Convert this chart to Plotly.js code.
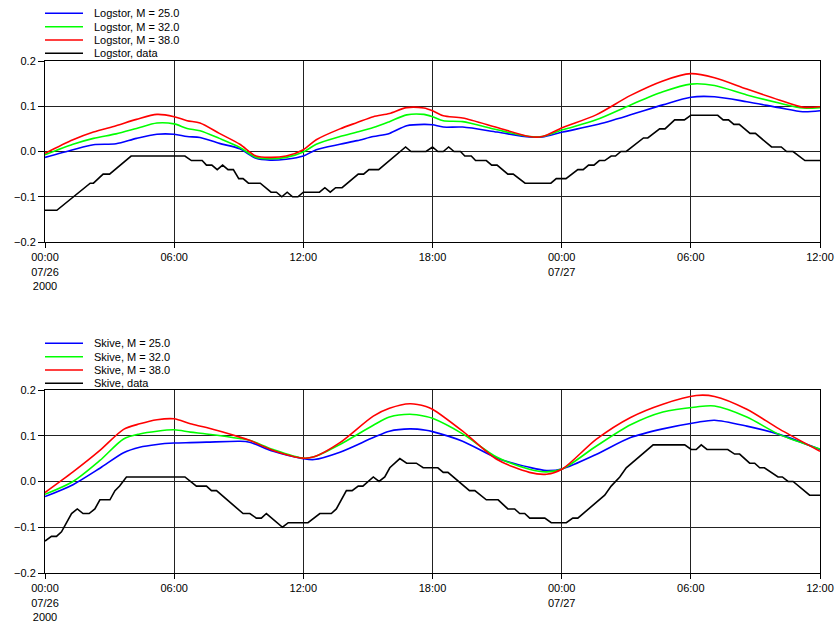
<!DOCTYPE html>
<html>
<head>
<meta charset="utf-8">
<script src="https://cdn.plot.ly/plotly-3.0.1.min.js"></script>
<style>html,body{margin:0;padding:0;background:#fff;}#chart{width:837px;height:623px;}</style>
</head>
<body>
<div id="chart"></div>
<script>
// ---------- data (hours since 2000-07-26 00:00) ----------
const topModelHours = [0, 1.3, 2.25, 3.3, 4.25, 5.2, 6.0, 6.6, 7.2, 8.1, 9.05, 9.8, 10.45, 11.2, 12.0, 12.6, 13.7, 14.5, 15.25, 16.0, 16.8, 17.6, 18.0, 18.5, 19.4, 21.0, 22.5, 23.1, 24.05, 25.6, 27.2, 28.7, 30.0, 31.1, 32.6, 34.1, 35.2, 36.0];
const logstorM25 = [-0.013, 0.004, 0.015, 0.017, 0.029, 0.038, 0.038, 0.033, 0.031, 0.018, 0.006, -0.015, -0.019, -0.017, -0.010, 0.004, 0.016, 0.024, 0.033, 0.040, 0.057, 0.060, 0.059, 0.054, 0.054, 0.043, 0.032, 0.032, 0.043, 0.059, 0.081, 0.103, 0.120, 0.121, 0.110, 0.097, 0.088, 0.090];
const logstorM32 = [-0.007, 0.016, 0.029, 0.039, 0.051, 0.063, 0.061, 0.051, 0.046, 0.029, 0.009, -0.013, -0.016, -0.013, -0.001, 0.016, 0.033, 0.043, 0.053, 0.066, 0.081, 0.082, 0.077, 0.068, 0.066, 0.048, 0.033, 0.033, 0.048, 0.070, 0.103, 0.132, 0.149, 0.146, 0.125, 0.107, 0.096, 0.097];
const logstorM38 = [-0.004, 0.026, 0.043, 0.057, 0.071, 0.082, 0.077, 0.068, 0.063, 0.040, 0.016, -0.010, -0.013, -0.010, 0.004, 0.026, 0.050, 0.064, 0.077, 0.084, 0.097, 0.096, 0.090, 0.079, 0.074, 0.053, 0.033, 0.033, 0.053, 0.081, 0.124, 0.156, 0.172, 0.163, 0.138, 0.114, 0.098, 0.099];

const logstorDataHours = [0, 0.55, 2.1, 2.25, 2.7, 3.0, 4.0, 6.5, 6.8, 7.3, 7.5, 7.75, 8.0, 8.25, 8.5, 8.75, 9.0, 9.2, 9.45, 10.0, 10.5, 10.75, 11.0, 11.25, 11.5, 11.75, 12.0, 12.75, 13.0, 13.25, 13.5, 13.8, 14.55, 14.8, 15.05, 15.5, 16.75, 17.0, 17.7, 18.0, 18.25, 18.5, 18.75, 19.0, 19.3, 19.5, 19.8, 20.0, 20.5, 20.75, 21.0, 21.5, 21.75, 22.3, 23.5, 23.75, 24.2, 24.75, 25.0, 25.25, 25.5, 25.75, 26.0, 26.3, 26.5, 26.75, 27.0, 27.8, 28.0, 28.55, 28.8, 29.25, 29.7, 30.0, 31.25, 31.5, 31.75, 32.0, 32.25, 32.75, 33.0, 33.75, 34.2, 34.45, 34.75, 35.3, 36.0];
const logstorData = [-0.13, -0.13, -0.07, -0.07, -0.05, -0.05, -0.01, -0.01, -0.02, -0.02, -0.03, -0.03, -0.04, -0.03, -0.04, -0.04, -0.06, -0.06, -0.07, -0.07, -0.09, -0.09, -0.10, -0.09, -0.10, -0.10, -0.09, -0.09, -0.08, -0.09, -0.08, -0.08, -0.05, -0.05, -0.04, -0.04, 0.01, 0.0, 0.0, 0.01, 0.0, 0.0, 0.01, 0.0, 0.0, -0.01, -0.01, -0.02, -0.02, -0.03, -0.03, -0.05, -0.05, -0.07, -0.07, -0.06, -0.06, -0.04, -0.04, -0.03, -0.03, -0.02, -0.02, -0.01, -0.01, 0.0, 0.0, 0.03, 0.03, 0.05, 0.05, 0.07, 0.07, 0.08, 0.08, 0.07, 0.07, 0.06, 0.06, 0.04, 0.04, 0.01, 0.01, 0.0, 0.0, -0.02, -0.02];

const bottomModelHours = [0, 1.3, 2.55, 3.65, 4.4, 5.2, 6.0, 6.75, 7.5, 9.05, 9.5, 10.6, 12.0, 12.5, 13.7, 15.25, 16.0, 16.95, 17.7, 18.0, 19.4, 21.0, 22.5, 23.3, 24.05, 25.6, 27.2, 28.7, 30.25, 31.1, 32.6, 34.1, 36.0];
const skiveM25 = [-0.033, -0.007, 0.029, 0.063, 0.075, 0.081, 0.084, 0.085, 0.086, 0.088, 0.086, 0.066, 0.050, 0.048, 0.064, 0.096, 0.110, 0.115, 0.112, 0.109, 0.088, 0.051, 0.031, 0.024, 0.028, 0.059, 0.096, 0.115, 0.129, 0.134, 0.121, 0.103, 0.070];
const skiveM32 = [-0.028, 0.0, 0.046, 0.093, 0.104, 0.110, 0.113, 0.108, 0.104, 0.094, 0.090, 0.070, 0.051, 0.054, 0.081, 0.123, 0.141, 0.147, 0.142, 0.138, 0.104, 0.053, 0.027, 0.021, 0.028, 0.077, 0.124, 0.152, 0.163, 0.165, 0.141, 0.103, 0.071];
const skiveM38 = [-0.024, 0.021, 0.068, 0.114, 0.126, 0.135, 0.137, 0.126, 0.118, 0.097, 0.090, 0.068, 0.051, 0.054, 0.085, 0.143, 0.160, 0.170, 0.164, 0.158, 0.110, 0.048, 0.020, 0.016, 0.028, 0.092, 0.140, 0.169, 0.188, 0.186, 0.158, 0.115, 0.066];

const skiveDataHours = [0, 0.31, 0.54, 0.77, 1.24, 1.5, 1.78, 2.06, 2.32, 2.55, 3.02, 3.25, 3.48, 3.79, 6.5, 7.04, 7.5, 7.74, 7.97, 9.21, 9.52, 9.83, 10.06, 10.29, 11.04, 11.3, 12.23, 12.77, 13.31, 13.54, 14.01, 14.27, 14.55, 14.78, 15.25, 15.53, 15.79, 16.02, 16.49, 16.8, 17.26, 17.57, 18.0, 18.26, 18.5, 18.73, 19.73, 19.97, 20.51, 21.05, 21.51, 21.82, 22.06, 22.29, 22.52, 23.22, 23.53, 24.22, 24.53, 24.76, 26.0, 26.31, 26.7, 27.0, 28.25, 29.72, 30.03, 30.26, 30.49, 30.76, 31.73, 32.04, 32.27, 32.74, 32.97, 33.2, 33.43, 34.05, 34.25, 34.52, 34.75, 35.52, 36.0];
const skiveData = [-0.13, -0.12, -0.12, -0.11, -0.07, -0.06, -0.07, -0.07, -0.06, -0.04, -0.04, -0.02, -0.01, 0.01, 0.01, -0.01, -0.01, -0.02, -0.02, -0.07, -0.07, -0.08, -0.08, -0.07, -0.10, -0.09, -0.09, -0.07, -0.07, -0.06, -0.02, -0.02, -0.01, -0.01, 0.01, 0.0, 0.01, 0.03, 0.05, 0.04, 0.04, 0.03, 0.03, 0.03, 0.02, 0.02, -0.02, -0.02, -0.04, -0.04, -0.06, -0.06, -0.07, -0.07, -0.08, -0.08, -0.09, -0.09, -0.08, -0.08, -0.03, -0.01, 0.01, 0.03, 0.08, 0.08, 0.07, 0.07, 0.08, 0.07, 0.07, 0.06, 0.06, 0.04, 0.04, 0.03, 0.03, 0.01, 0.01, 0.0, 0.0, -0.03, -0.03];

const tickTimes = ['2000-07-26 00:00', '2000-07-26 06:00', '2000-07-26 12:00', '2000-07-26 18:00', '2000-07-27 00:00', '2000-07-27 06:00', '2000-07-27 12:00'];
const tickLabels = ['00:00<br>07/26<br>2000', '06:00', '12:00', '18:00', '00:00<br>07/27', '06:00', '12:00'];
const yTicks = [-0.2, -0.1, 0.0, 0.1, 0.2];
const topNames = ['Logstor, M = 25.0', 'Logstor, M = 32.0', 'Logstor, M = 38.0', 'Logstor, data'];
const bottomNames = ['Skive, M = 25.0', 'Skive, M = 32.0', 'Skive, M = 38.0', 'Skive, data'];
const colors = ['#0000ff', '#00ff00', '#ff0000', '#000000'];

// ---------- helpers ----------
function toTime(h) {
  const d = new Date(Date.UTC(2000, 6, 26) + Math.round(h * 3600000));
  return d.toISOString().slice(0, 16).replace('T', ' ');
}
const tx = a => a.map(toTime);

function modelTrace(hours, vals, i, name, xa, ya) {
  return {x: tx(hours), y: vals, name: name, type: 'scatter', mode: 'lines',
    line: {color: colors[i], width: 1.6, shape: 'spline', smoothing: 0.8},
    xaxis: xa, yaxis: ya, showlegend: false, hoverinfo: 'x+y+name'};
}
function dataTrace(hours, vals, name, xa, ya) {
  return {x: tx(hours), y: vals, name: name, type: 'scatter', mode: 'lines',
    line: {color: colors[3], width: 1.6},
    xaxis: xa, yaxis: ya, showlegend: false};
}

const traces = [
  modelTrace(topModelHours, logstorM25, 0, topNames[0], 'x', 'y'),
  modelTrace(topModelHours, logstorM32, 1, topNames[1], 'x', 'y'),
  modelTrace(topModelHours, logstorM38, 2, topNames[2], 'x', 'y'),
  dataTrace(logstorDataHours, logstorData, topNames[3], 'x', 'y'),
  modelTrace(bottomModelHours, skiveM25, 0, bottomNames[0], 'x2', 'y2'),
  modelTrace(bottomModelHours, skiveM32, 1, bottomNames[1], 'x2', 'y2'),
  modelTrace(bottomModelHours, skiveM38, 2, bottomNames[2], 'x2', 'y2'),
  dataTrace(skiveDataHours, skiveData, bottomNames[3], 'x2', 'y2')
];

// ---------- layout ----------
const W = 837, H = 623, ML = 45, MR = 17, MT = 61, MB = 50;
const plotH = H - MT - MB, plotW = W - ML - MR;
const py = p => (H - MB - p) / plotH;   // pixel y -> paper y
const px = p => (p - ML) / plotW;       // pixel x -> paper x

const font = {family: 'Liberation Sans, Arial, sans-serif', size: 11, color: '#000'};

function xAxis(anchor, domainRef) {
  return {type: 'date', range: [tickTimes[0], tickTimes[tickTimes.length - 1]], anchor: anchor,
    tickmode: 'array', tickvals: tickTimes, ticktext: tickLabels,
    showgrid: true, gridcolor: '#222', gridwidth: 1,
    showline: true, linecolor: '#000', linewidth: 1, mirror: true,
    ticks: 'outside', ticklen: 5, tickcolor: '#000', tickfont: font, zeroline: false};
}
function yAxis(anchor, domain) {
  return {range: [-0.2, 0.2], domain: domain, anchor: anchor,
    tickmode: 'array', tickvals: yTicks, tickformat: '.1f',
    showgrid: true, gridcolor: '#222', gridwidth: 1, zeroline: false,
    showline: true, linecolor: '#000', linewidth: 1, mirror: true,
    ticks: 'outside', ticklen: 6, tickcolor: '#000', tickfont: font};
}

const shapes = [], annotations = [];
function addLegend(names, rowsPx) {
  names.forEach((n, i) => {
    const yy = py(rowsPx[i]);
    shapes.push({type: 'line', xref: 'paper', yref: 'paper', x0: px(45), x1: px(83), y0: yy, y1: yy,
      line: {color: colors[i], width: 1.6}});
    annotations.push({xref: 'paper', yref: 'paper', x: px(92), y: yy, xanchor: 'left', yanchor: 'middle',
      text: n, showarrow: false, font: font});
  });
}
addLegend(topNames, [13.3, 26.7, 40, 53.3]);
addLegend(bottomNames, [343.3, 356.7, 370, 383.3]);

const layout = {
  width: W, height: H,
  margin: {l: ML, r: MR, t: MT, b: MB},
  paper_bgcolor: '#fff', plot_bgcolor: '#fff',
  font: font, showlegend: false,
  xaxis: xAxis('y'),
  yaxis: yAxis('x', [py(242), 1]),
  xaxis2: xAxis('y2'),
  yaxis2: yAxis('x2', [0, py(390)]),
  shapes: shapes, annotations: annotations
};

Plotly.newPlot('chart', traces, layout, {displayModeBar: false, staticPlot: true});
</script>
</body>
</html>
